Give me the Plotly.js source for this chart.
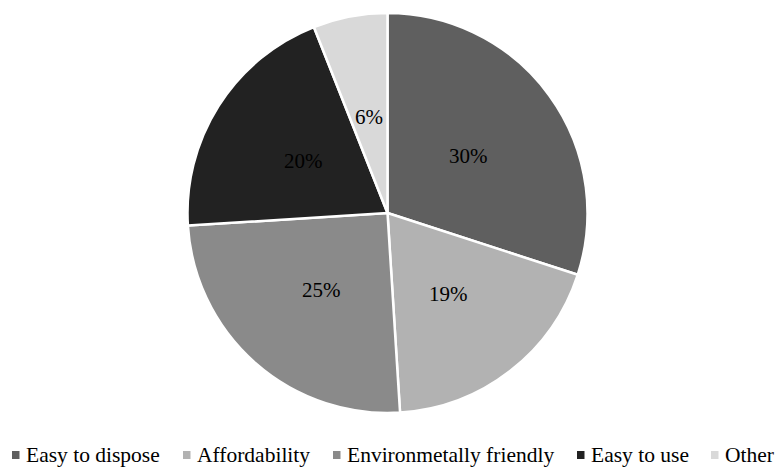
<!DOCTYPE html>
<html>
<head>
<meta charset="utf-8">
<script src="https://cdn.plot.ly/plotly-3.0.1.min.js"></script>
<style>
  html, body { margin: 0; padding: 0; background: #ffffff; }
  #chart { width: 775px; height: 467px; }
</style>
</head>
<body>
<div id="chart"></div>
<script>
// Reasons for preference, share of respondents (%)
const categories = ['Easy to dispose', 'Affordability', 'Environmetally friendly', 'Easy to use', 'Other'];
const shares = [30, 19, 25, 20, 6];
const sliceColors = ['#5f5f5f', '#b2b2b2', '#8a8a8a', '#222222', '#d9d9d9'];

const W = 775, H = 467;
const margin = { l: 0, r: 0, t: 13, b: 54 };
const plotW = W - margin.l - margin.r;
const plotH = H - margin.t - margin.b;
const pctFont = { family: 'Liberation Serif', size: 21, color: '#000000' };
const legendFont = { family: 'Liberation Serif', size: 21.5, color: '#000000' };

const trace = {
  type: 'pie',
  labels: categories,
  values: shares,
  textinfo: 'none',
  sort: false,
  direction: 'clockwise',
  rotation: 0,
  marker: { colors: sliceColors, line: { color: '#ffffff', width: 2.5 } },
  hoverinfo: 'label+percent'
};

// Percentage labels placed at half the radius along each slice's middle angle
const radius = Math.min(plotW, plotH) / 2;
const total = shares.reduce((a, b) => a + b, 0);
const annotations = [];
let cum = 0;
shares.forEach(v => {
  const mid = (cum + v / 2) / total * 2 * Math.PI;
  cum += v;
  annotations.push({
    xref: 'paper', yref: 'paper',
    x: 0.5 + 0.5 * radius * Math.sin(mid) / plotW,
    y: 0.5 + 0.5 * radius * Math.cos(mid) / plotH,
    xanchor: 'center', yanchor: 'middle', yshift: -2,
    text: v + '%',
    showarrow: false,
    font: pctFont
  });
});

// Legend row beneath the pie: small square swatch followed by its label
const legendSwatchX = [12, 183, 333, 577, 711];
const legendY = 455;
const px2x = p => (p - margin.l) / plotW;
const px2y = p => (H - margin.b - p) / plotH;
const shapes = [];
categories.forEach((name, i) => {
  shapes.push({
    type: 'rect', xref: 'paper', yref: 'paper',
    x0: px2x(legendSwatchX[i]), x1: px2x(legendSwatchX[i] + 7.5),
    y0: px2y(legendY - 4), y1: px2y(legendY + 4),
    fillcolor: sliceColors[i], line: { width: 0 }
  });
  annotations.push({
    xref: 'paper', yref: 'paper',
    x: px2x(legendSwatchX[i] + 12), y: px2y(legendY),
    xanchor: 'left', yanchor: 'middle',
    text: name, showarrow: false,
    font: legendFont
  });
});

const layout = {
  width: W,
  height: H,
  margin: margin,
  paper_bgcolor: '#ffffff',
  font: { family: 'Liberation Serif', size: 20, color: '#000000' },
  showlegend: false,
  annotations: annotations,
  shapes: shapes
};

Plotly.newPlot('chart', [trace], layout, { displayModeBar: false, staticPlot: true });
</script>
</body>
</html>
